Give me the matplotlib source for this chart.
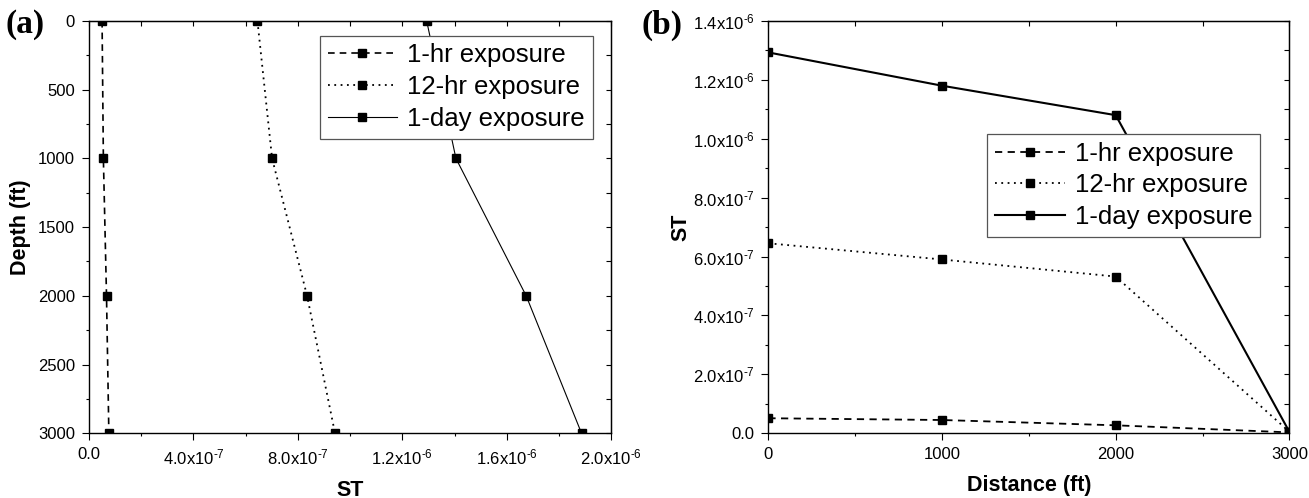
import numpy as np
import matplotlib
matplotlib.use("Agg")
import matplotlib.pyplot as plt
from matplotlib.ticker import MultipleLocator, FuncFormatter

plt.rcParams['font.family'] = 'Liberation Sans'
plt.rcParams['mathtext.fontset'] = 'custom'
plt.rcParams['mathtext.rm'] = 'Liberation Sans'
plt.rcParams['mathtext.default'] = 'regular'

# panel (a): ST vs depth
depth = [0, 1000, 2000, 3000]
a_1hr = [5.0e-8, 5.5e-8, 6.7e-8, 7.6e-8]
a_12hr = [6.45e-7, 7.01e-7, 8.35e-7, 9.42e-7]
a_1day = [1.293e-6, 1.405e-6, 1.674e-6, 1.886e-6]

# panel (b): ST vs distance
distance = [0, 1000, 2000, 3000]
b_1hr = [5.1e-8, 4.5e-8, 2.7e-8, 0.3e-8]
b_12hr = [6.45e-7, 5.9e-7, 5.32e-7, 0.5e-8]
b_1day = [1.293e-6, 1.18e-6, 1.08e-6, 0.5e-8]

labels = ["1-hr exposure", "12-hr exposure", "1-day exposure"]
styles = [(0, (4, 3)), (0, (1, 2.5)), '-']

TICK_FS = 12
LABEL_FS = 15.5
LEG_FS = 18.5


def sci_fmt(v, pos):
    if abs(v) < 1e-15:
        return '0.0'
    e = int(np.floor(np.log10(abs(v)) + 1e-9))
    m = v / 10 ** e
    return f'{m:.1f}x10$^{{\u2010{abs(e)}}}$'


def style_axes(ax, xmaj, xmin, ymaj, ymin):
    for s in ax.spines.values():
        s.set_linewidth(1.0)
    ax.xaxis.set_major_locator(MultipleLocator(xmaj))
    ax.xaxis.set_minor_locator(MultipleLocator(xmin))
    ax.yaxis.set_major_locator(MultipleLocator(ymaj))
    ax.yaxis.set_minor_locator(MultipleLocator(ymin))
    ax.tick_params(which='major', direction='out', length=5, width=0.8,
                   labelsize=TICK_FS, pad=5)
    ax.tick_params(which='minor', direction='out', length=2.5, width=0.8)
    top = ax.secondary_xaxis('top')
    top.xaxis.set_major_locator(MultipleLocator(xmin))
    top.tick_params(direction='in', length=3.5, width=0.8, labeltop=False)
    right = ax.secondary_yaxis('right')
    right.yaxis.set_major_locator(MultipleLocator(ymin))
    right.tick_params(direction='in', length=3.5, width=0.8, labelright=False)


def add_legend(ax, anchor):
    leg = ax.legend(loc='upper right', bbox_to_anchor=anchor, borderaxespad=0,
                    fontsize=LEG_FS, handlelength=2.7, handletextpad=0.4,
                    labelspacing=0.3, borderpad=0.3, fancybox=False, framealpha=1)
    leg.get_frame().set_edgecolor('#555555')
    leg.get_frame().set_linewidth(0.9)


fig = plt.figure(figsize=(13.09, 4.98), dpi=100)

# (a)
ax1 = fig.add_axes([0.068, 0.130, 0.399, 0.828])
widths_a = [1.2, 1.3, 0.8]
for ys, lab, ls, lw in zip([a_1hr, a_12hr, a_1day], labels, styles, widths_a):
    ax1.plot(ys, depth, linestyle=ls, color='black', lw=lw, marker='s',
             markersize=6, label=lab)
ax1.set_xlim(0, 2.0e-6)
ax1.set_ylim(3000, 0)
style_axes(ax1, 4e-7, 2e-7, 500, 250)
ax1.xaxis.set_major_formatter(FuncFormatter(sci_fmt))
ax1.set_xlabel('ST', fontsize=LABEL_FS, fontweight='bold', labelpad=9)
ax1.set_ylabel('Depth (ft)', fontsize=LABEL_FS, fontweight='bold', labelpad=5)
add_legend(ax1, (0.964, 0.964))
fig.text(0.004, 0.95, '(a)', fontsize=24, fontweight='bold', family='Liberation Serif',
         va='center', ha='left')

# (b)
ax2 = fig.add_axes([0.587, 0.130, 0.398, 0.828])
widths_b = [1.3, 1.3, 1.5]
for ys, lab, ls, lw in zip([b_1hr, b_12hr, b_1day], labels, styles, widths_b):
    ax2.plot(distance, ys, linestyle=ls, color='black', lw=lw, marker='s',
             markersize=6, label=lab)
ax2.set_xlim(0, 3000)
ax2.set_ylim(0, 1.4e-6)
style_axes(ax2, 1000, 500, 2e-7, 1e-7)
ax2.yaxis.set_major_formatter(FuncFormatter(sci_fmt))
ax2.set_xlabel('Distance (ft)', fontsize=LABEL_FS, fontweight='bold', labelpad=9)
ax2.set_ylabel('ST', fontsize=LABEL_FS, fontweight='bold', labelpad=1)
add_legend(ax2, (0.944, 0.726))
fig.text(0.490, 0.95, '(b)', fontsize=24, fontweight='bold', family='Liberation Serif',
         va='center', ha='left')

fig.savefig('out.png', dpi=100)
